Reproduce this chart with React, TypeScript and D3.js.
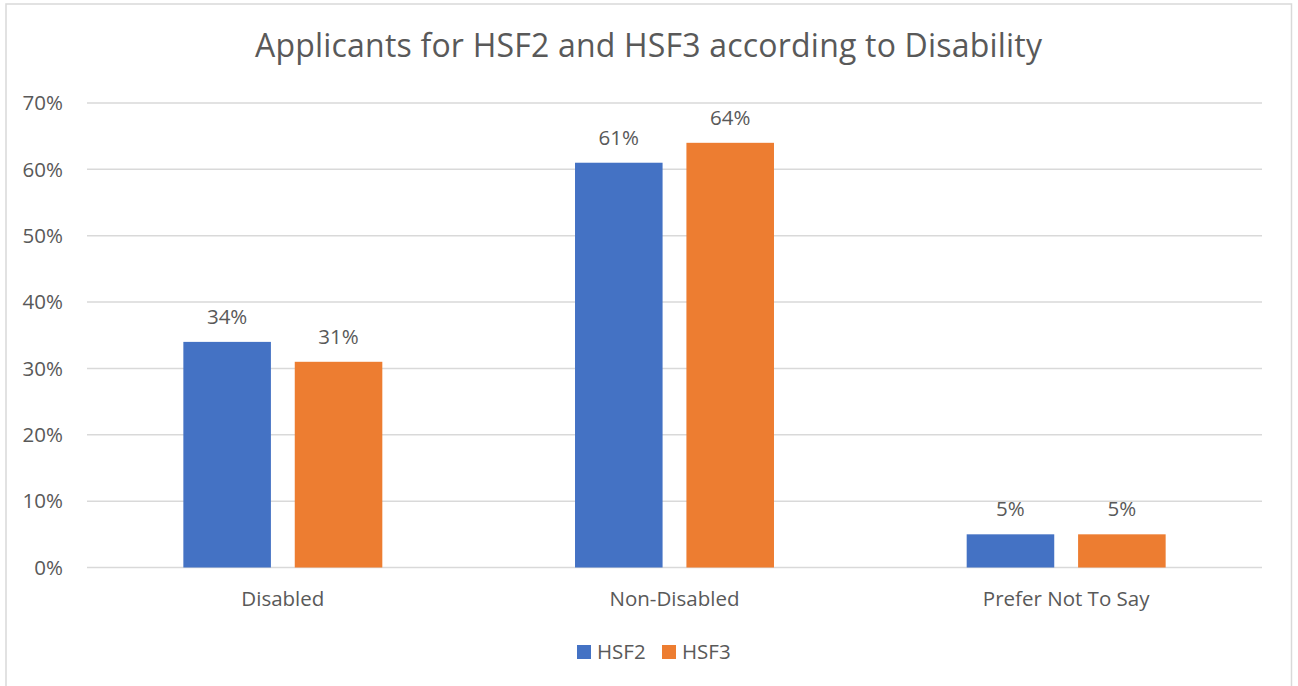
import React from "react";
import * as d3 from "d3";

const categories = ["Disabled", "Non-Disabled", "Prefer Not To Say"];
const seriesNames = ["HSF2", "HSF3"];
const hsf2Values = [0.34, 0.61, 0.05];
const hsf3Values = [0.31, 0.64, 0.05];
const yTicks = [0, 0.1, 0.2, 0.3, 0.4, 0.5, 0.6, 0.7];
const colors = ["#4472C4", "#ED7D31"];
const title = "Applicants for HSF2 and HSF3 according to Disability";

const W = 1298;
const H = 686;
const plotLeft = 87;
const plotRight = 1262;
const plotTop = 103;
const plotBottom = 567.5;
const FONT = "'Open Sans', 'Noto Sans', sans-serif";
const TEXT = "#595959";

export default function App() {
  const x = d3.scaleBand<string>().domain(categories).range([plotLeft, plotRight]).padding(0);
  const groupInset = x.bandwidth() * 0.246;
  const xs = d3
    .scaleBand<string>()
    .domain(seriesNames)
    .range([groupInset, x.bandwidth() - groupInset])
    .paddingInner(0.214)
    .paddingOuter(0);
  const y = d3.scaleLinear().domain([0, 0.7]).range([plotBottom, plotTop]);
  const fmt = d3.format(".0%");
  const series = [hsf2Values, hsf3Values];

  return (
    <svg
      width={W}
      height={H}
      style={{ position: "absolute", left: 0, top: 0, background: "#fff" }}
      fontFamily={FONT}
    >
      <rect x={6} y={4} width={1285.5} height={700} fill="#fff" stroke="#d9d9d9" strokeWidth={1.5} />
      <text
        x={648.5}
        y={57}
        textAnchor="middle"
        fontSize={32}
        fill={TEXT}
        textLength={787}
        lengthAdjust="spacing"
      >
        {title}
      </text>
      {yTicks.map((t) => (
        <g key={t}>
          <line x1={plotLeft} x2={plotRight} y1={y(t)} y2={y(t)} stroke="#d9d9d9" strokeWidth={1.5} />
          <text x={63} y={y(t)} dy="0.35em" textAnchor="end" fontSize={20.5} fill={TEXT}>
            {fmt(t)}
          </text>
        </g>
      ))}
      {categories.map((c, ci) => (
        <g key={c} transform={`translate(${x(c)},0)`}>
          {seriesNames.map((s, si) => {
            const v = series[si][ci];
            const bx = xs(s)!;
            return (
              <g key={s}>
                <rect x={bx} y={y(v)} width={xs.bandwidth()} height={plotBottom - y(v)} fill={colors[si]} />
                <text
                  x={bx + xs.bandwidth() / 2}
                  y={y(v) - 18}
                  textAnchor="middle"
                  fontSize={20.5}
                  fill={TEXT}
                >
                  {fmt(v)}
                </text>
              </g>
            );
          })}
          <text x={x.bandwidth() / 2} y={606} textAnchor="middle" fontSize={20.5} fill={TEXT}>
            {c}
          </text>
        </g>
      ))}
      {seriesNames.map((s, si) => {
        const lx = [577, 662][si];
        return (
          <g key={s}>
            <rect x={lx} y={645} width={14} height={14} fill={colors[si]} />
            <text x={lx + 20} y={659} fontSize={20.5} fill={TEXT}>
              {s}
            </text>
          </g>
        );
      })}
    </svg>
  );
}
